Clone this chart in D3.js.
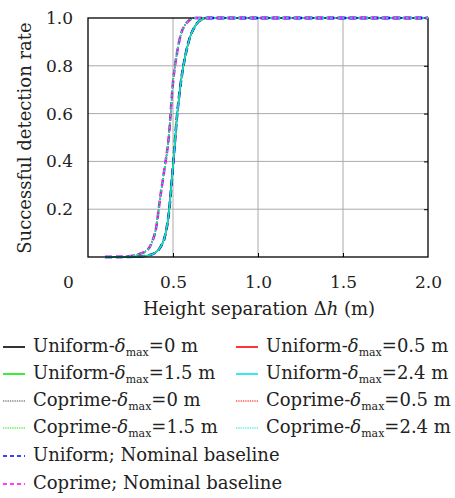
<!DOCTYPE html>
<html>
<head>
<meta charset="utf-8">
<script src="https://cdn.jsdelivr.net/npm/d3@7"></script>
<style>
  body { margin: 0; background: #fff; }
</style>
</head>
<body>
<svg id="chart" width="455" height="498"></svg>
<script>
// data
const uniformX = [0.10, 0.20, 0.30, 0.35, 0.40, 0.425, 0.45, 0.475, 0.50, 0.525, 0.55, 0.575, 0.60, 0.625, 0.65, 0.675, 0.70, 0.75, 1.0, 1.5, 2.0]
const uniformY = [0, 0, 0.002, 0.006, 0.02, 0.04, 0.08, 0.18, 0.38, 0.60, 0.75, 0.85, 0.92, 0.96, 0.985, 0.995, 1, 1, 1, 1, 1]
const coprimeX = [0.10, 0.20, 0.25, 0.30, 0.35, 0.375, 0.40, 0.425, 0.45, 0.475, 0.50, 0.525, 0.55, 0.575, 0.60, 0.625, 0.70, 1.0, 1.5, 2.0]
const coprimeY = [0, 0.001, 0.004, 0.012, 0.03, 0.06, 0.12, 0.25, 0.37, 0.50, 0.73, 0.86, 0.94, 0.975, 0.993, 1, 1, 1, 1, 1]

const xTicks = [0.5, 1.0, 1.5, 2.0]
const yTicks = [0.2, 0.4, 0.6, 0.8, 1.0]

const series = [
  { name: 'Uniform', d: '0', color: '#000000', style: 'solid', x: uniformX, y: uniformY },
  { name: 'Uniform', d: '0.5', color: '#ff0000', style: 'solid', x: uniformX, y: uniformY },
  { name: 'Uniform', d: '1.5', color: '#00ee00', style: 'solid', x: uniformX, y: uniformY },
  { name: 'Uniform', d: '2.4', color: '#00e5e5', style: 'solid', x: uniformX, y: uniformY },
  { name: 'Coprime', d: '0', color: '#444444', style: 'dotted', x: coprimeX, y: coprimeY },
  { name: 'Coprime', d: '0.5', color: '#ff0000', style: 'dotted', x: coprimeX, y: coprimeY },
  { name: 'Coprime', d: '1.5', color: '#00ee00', style: 'dotted', x: coprimeX, y: coprimeY },
  { name: 'Coprime', d: '2.4', color: '#00e5e5', style: 'dotted', x: coprimeX, y: coprimeY },
  { name: 'Uniform; Nominal baseline', color: '#0000ff', style: 'dashed', x: uniformX, y: uniformY },
  { name: 'Coprime; Nominal baseline', color: '#ff00ff', style: 'dashed', x: coprimeX, y: coprimeY }
]

const FONT = 'DejaVu Serif'
const FS = 18
const svg = d3.select('#chart').attr('font-family', FONT)
const pLeft = 88, pRight = 428, pTop = 18, pBottom = 257

const scaleX = d3.scaleLinear().domain([0, 2]).range([pLeft, pRight])
const scaleY = d3.scaleLinear().domain([0, 1]).range([pBottom, pTop])

// grid
svg.append('g')
  .selectAll('line')
  .data(xTicks.slice(0, 3))
  .enter().append('line')
  .attr('x1', d => scaleX(d)).attr('x2', d => scaleX(d))
  .attr('y1', pTop).attr('y2', pBottom)
  .attr('stroke', '#aaa').attr('stroke-width', 1)
svg.append('g')
  .selectAll('line')
  .data(yTicks.slice(0, 4))
  .enter().append('line')
  .attr('x1', pLeft).attr('x2', pRight)
  .attr('y1', d => scaleY(d)).attr('y2', d => scaleY(d))
  .attr('stroke', '#aaa').attr('stroke-width', 1)

// axes
const fmt = d3.format('.1f')
const axisX = svg.append('g')
  .attr('transform', `translate(0,${pBottom})`)
  .call(d3.axisBottom(scaleX).tickValues([0].concat(xTicks)).tickFormat(d => d === 0 ? '0' : fmt(d)).tickSize(-4).tickPadding(19).tickSizeOuter(0))
axisX.attr('font-family', FONT)
axisX.select('.domain').remove()
axisX.selectAll('text').attr('font-size', FS - 1).attr('fill', '#222')
axisX.selectAll('.tick').filter(d => d === 0).select('text').attr('dx', -20)
axisX.selectAll('.tick').filter(d => d === 0 || d === 2).select('line').remove()
axisX.selectAll('line').attr('stroke', '#000')

const axisY = svg.append('g')
  .attr('transform', `translate(${pLeft},0)`)
  .call(d3.axisLeft(scaleY).tickValues(yTicks).tickFormat(fmt).tickSize(0).tickPadding(15))
axisY.attr('font-family', FONT)
axisY.select('.domain').remove()
axisY.selectAll('text').attr('font-size', FS - 1).attr('fill', '#222')

const axisR = svg.append('g')
  .attr('transform', `translate(${pRight},0)`)
  .call(d3.axisRight(scaleY).tickValues(yTicks.slice(0, 4)).tickSize(-4).tickFormat(''))
axisR.select('.domain').remove()
axisR.selectAll('line').attr('stroke', '#000')

// curves
const dashFor = s => s === 'dashed' ? '7,4' : s === 'dotted' ? '2,2' : null
const widthFor = s => s === 'dashed' ? 2.6 : 1.4
const line = d3.line().x(d => scaleX(d[0])).y(d => scaleY(d[1])).curve(d3.curveMonotoneX)

const order = series.slice(8).concat(series.slice(0, 8))
svg.append('g')
  .selectAll('path')
  .data(order)
  .enter().append('path')
  .attr('d', s => line(s.x.map((v, i) => [v, s.y[i]])))
  .attr('fill', 'none')
  .attr('stroke', s => s.color)
  .attr('stroke-width', s => widthFor(s.style))
  .attr('stroke-dasharray', s => dashFor(s.style))

// frame
svg.append('rect')
  .attr('x', pLeft).attr('y', pTop)
  .attr('width', pRight - pLeft).attr('height', pBottom - pTop)
  .attr('fill', 'none').attr('stroke', '#000').attr('stroke-width', 1.3)

// top edge curves drawn over frame
svg.append('g')
  .selectAll('path')
  .data(order.slice(0, 2).concat(order.slice(8)))
  .enter().append('path')
  .attr('d', s => line(s.x.map((v, i) => [v, s.y[i]]).filter(p => p[1] >= 1)))
  .attr('fill', 'none')
  .attr('stroke', s => s.color)
  .attr('stroke-width', s => widthFor(s.style))
  .attr('stroke-dasharray', s => dashFor(s.style))

// axis titles
const xTitle = svg.append('text')
  .attr('x', 259).attr('y', 315)
  .attr('text-anchor', 'middle').attr('font-size', FS).attr('fill', '#222')
xTitle.append('tspan').text('Height separation Δ')
xTitle.append('tspan').attr('font-style', 'italic').text('h')
xTitle.append('tspan').text(' (m)')

svg.append('text')
  .attr('transform', `translate(31,138) rotate(-90)`)
  .attr('text-anchor', 'middle').attr('font-size', FS).attr('fill', '#222')
  .text('Successful detection rate')

// legend
const rowY = [347, 374, 401, 428, 456, 484]
const legendPos = (s, i) => {
  if (i < 8) return { x: (i % 2) ? 236 : 3, y: rowY[Math.floor(i / 2)] }
  return { x: 3, y: rowY[i - 4] }
}
const legend = svg.append('g')
series.forEach((s, i) => {
  const p = legendPos(s, i)
  legend.append('line')
    .attr('x1', p.x).attr('x2', p.x + 22)
    .attr('y1', p.y).attr('y2', p.y)
    .attr('stroke', s.color)
    .attr('stroke-width', s.style === 'dashed' ? 1.3 : s.style === 'dotted' ? 1.1 : 1.6)
    .attr('stroke-dasharray', s.style === 'dashed' ? '4,3' : s.style === 'dotted' ? '1.3,1' : null)
  const t = legend.append('text')
    .attr('x', p.x + 30).attr('y', p.y + 5)
    .attr('font-size', FS).attr('fill', '#222')
  if (s.d === undefined) {
    t.text(s.name)
  } else {
    t.append('tspan').text(s.name + '-')
    t.append('tspan').attr('font-style', 'italic').text('δ')
    t.append('tspan').attr('font-size', 11).attr('dy', 4).text('max')
    t.append('tspan').attr('dy', -4).text('=' + s.d + ' m')
  }
})
</script>
</body>
</html>
